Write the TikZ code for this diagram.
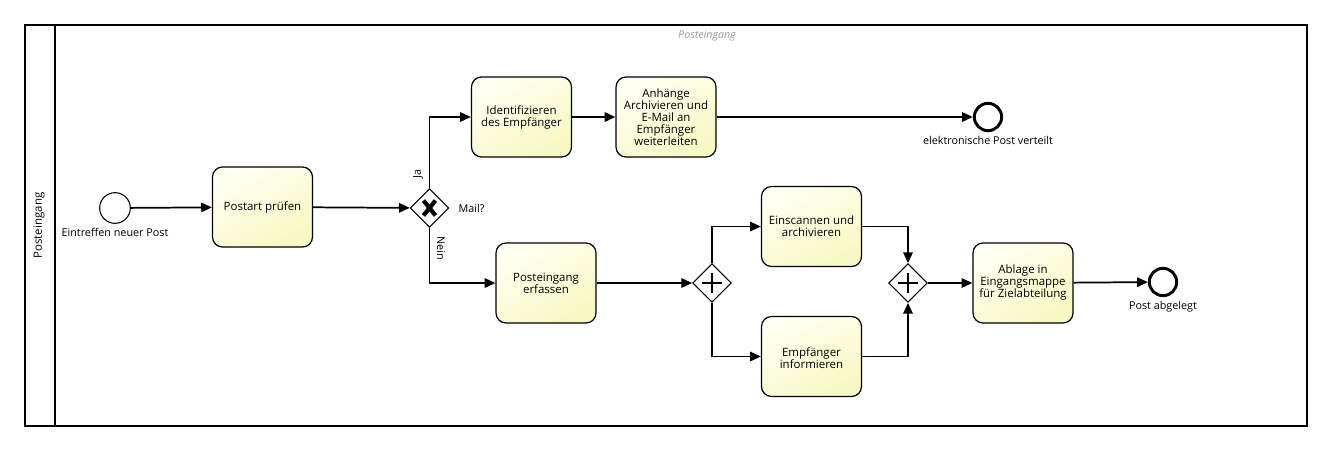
\documentclass[tikz,border=0pt]{standalone}
\usepackage{fontspec}
\setmainfont{Open Sans}
\usetikzlibrary{arrows.meta,shapes.geometric,calc}
\definecolor{taskA}{HTML}{FFFFF2}
\definecolor{taskB}{HTML}{F8F8C4}
\tikzset{
  task/.style={draw=black, line width=0.9pt, rounded corners=7.5pt, minimum width=75pt, minimum height=60pt,
    top color=taskA, bottom color=taskB, shading angle=30, align=center, font=\fontsize{8.6}{9}\selectfont, inner sep=1pt},
  startev/.style={circle, draw=black, line width=0.8pt, fill=white, minimum size=23pt, inner sep=0pt},
  endev/.style={circle, draw=black, line width=2.2pt, fill=white, minimum size=20.5pt, inner sep=0pt},
  gw/.style={diamond, draw=black, line width=0.8pt, fill=white, minimum width=29pt, minimum height=29pt, inner sep=0pt},
  flow/.style={draw=black, line width=1.3pt, -{Triangle[length=8pt,width=7pt]}},
  lbl/.style={font=\fontsize{8.1}{9}\selectfont},
  x=0.75pt, y=-0.75pt
}
\begin{document}
\begin{tikzpicture}
\useasboundingbox (0,0) rectangle (1332,451);
% pool
\draw[line width=0.9pt] (25,25) rectangle (1307,426);
\draw[line width=0.9pt] (55,25) -- (55,426);
\node[rotate=90, font=\fontsize{8.6}{10}\selectfont] (poolname) at (39,225.5) {Posteingang};
\node[font=\itshape\fontsize{8}{9}\selectfont, text=black!40] (lanename) at (707,36) {Posteingang};

% events
\node[startev] (start) at (115,208) {};
\node[lbl, anchor=north] (startlbl) at (115,224) {Eintreffen neuer Post};
\node[endev] (end1) at (988,117) {};
\node[lbl, anchor=north] (end1lbl) at (988,132) {elektronische Post verteilt};
\node[endev] (end2) at (1163,282) {};
\node[lbl, anchor=north] (end2lbl) at (1163,297) {Post abgelegt};

% tasks
\node[task] (t1) at (262.5,207) {Postart prüfen};
\node[task] (t2) at (521.5,117) {Identifizieren\\des Empfänger};
\node[task] (t3) at (666,117) {Anhänge\\Archivieren und\\E-Mail an\\Empfänger\\weiterleiten};
\node[task] (t4) at (546,283) {Posteingang\\erfassen};
\node[task] (t5) at (811.5,226.5) {Einscannen und\\archivieren};
\node[task] (t6) at (811.5,356.5) {\\Empfänger\\informieren};
\node[task] (t7) at (1023,283) {Ablage in\\Eingangsmappe\\für Zielabteilung};

% gateways
\node[gw] (g1) at (429.5,208) {};
\draw[line width=3.2pt] ($(g1)+(-6,-7.5)$) -- ($(g1)+(6,7.5)$);
\draw[line width=3.2pt] ($(g1)+(6,-7.5)$) -- ($(g1)+(-6,7.5)$);
\node[lbl, anchor=west] (mail) at (454,208) {Mail?};
\node[gw] (g2) at (712,283) {};
\draw[line width=2.2pt] ($(g2)+(-10,0)$) -- ($(g2)+(10,0)$);
\draw[line width=2.2pt] ($(g2)+(0,-10)$) -- ($(g2)+(0,10)$);
\node[gw] (g3) at (908,283) {};
\draw[line width=2.2pt] ($(g3)+(-10,0)$) -- ($(g3)+(10,0)$);
\draw[line width=2.2pt] ($(g3)+(0,-10)$) -- ($(g3)+(0,10)$);

% flows
\draw[flow] (start) -- (t1);
\draw[flow] (t1) -- (g1);
\draw[flow] (g1.north) |- (t2.west);
\draw[flow] (t2) -- (t3);
\draw[flow] (t3) -- (end1);
\draw[flow] (g1.south) |- (t4.west);
\draw[flow] (t4) -- (g2);
\draw[flow] (g2.north) |- (t5.west);
\draw[flow] (g2.south) |- (t6.west);
\draw[flow] (t5.east) -| (g3.north);
\draw[flow] (t6.east) -| (g3.south);
\draw[flow] (g3) -- (t7);
\draw[flow] (t7) -- (end2);

\node[lbl, rotate=90] (ja) at (418,174) {Ja};
\node[lbl, rotate=-90] (nein) at (441,248) {Nein};
\end{tikzpicture}
\end{document}
